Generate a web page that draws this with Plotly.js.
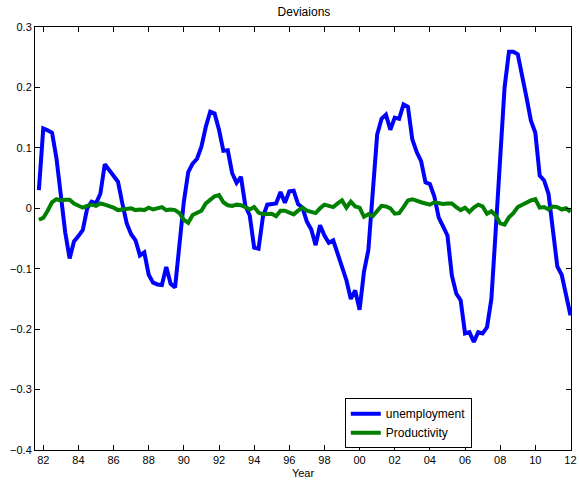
<!DOCTYPE html>
<html>
<head>
<meta charset="utf-8">
<script src="https://cdn.plot.ly/plotly-3.0.1.min.js"></script>
<style>html,body{margin:0;padding:0;background:#fff;}#chart{width:579px;height:481px;}</style>
</head>
<body>
<div id="chart"></div>
<script>
// Quarterly series, first observation 1981Q4 (1981.75), step 0.25 year
const startYear = 1981.75;
const stepYears = 0.25;

const unemployment = [
  0.030, 0.132, 0.129, 0.125, 0.083, 0.020, -0.040, -0.083, -0.055, -0.046,
  -0.036, 0.000, 0.011, 0.008, 0.024, 0.073, 0.064, 0.055, 0.044, 0.008,
  -0.025, -0.043, -0.053, -0.078, -0.073, -0.110, -0.123, -0.126, -0.127, -0.097,
  -0.125, -0.131, -0.054, 0.011, 0.060, 0.074, 0.082, 0.102, 0.135, 0.160,
  0.157, 0.130, 0.095, 0.096, 0.058, 0.042, 0.052, 0.004, -0.012, -0.065,
  -0.067, -0.014, 0.006, 0.007, 0.008, 0.027, 0.009, 0.028, 0.029, 0.007,
  0.001, -0.022, -0.035, -0.061, -0.028, -0.045, -0.057, -0.053, -0.075, -0.100,
  -0.119, -0.150, -0.136, -0.168, -0.105, -0.069, 0.035, 0.122, 0.148, 0.155,
  0.130, 0.150, 0.148, 0.172, 0.168, 0.114, 0.093, 0.078, 0.043, 0.040,
  0.020, -0.015, -0.030, -0.045, -0.111, -0.141, -0.152, -0.207, -0.205, -0.221,
  -0.205, -0.207, -0.197, -0.150, -0.035, 0.085, 0.200, 0.259, 0.259, 0.255,
  0.222, 0.183, 0.145, 0.125, 0.054, 0.046, 0.024, -0.031, -0.096, -0.110,
  -0.145, -0.177
];

const productivity = [
  -0.019, -0.016, -0.004, 0.010, 0.015, 0.013, 0.014, 0.014, 0.008, 0.004,
  0.001, 0.004, 0.006, 0.004, 0.008, 0.006, 0.004, 0.001, -0.003, -0.002,
  -0.001, 0.000, -0.003, -0.002, -0.003, 0.001, -0.002, 0.000, 0.002, -0.003,
  -0.002, -0.003, -0.008, -0.019, -0.024, -0.011, -0.008, -0.004, 0.008, 0.013,
  0.020, 0.022, 0.010, 0.005, 0.004, 0.006, 0.005, 0.002, -0.002, 0.002,
  -0.007, -0.010, -0.009, -0.009, -0.013, -0.004, -0.004, -0.007, -0.010, -0.004,
  0.001, -0.004, -0.006, -0.008, 0.000, 0.006, 0.004, 0.002, 0.008, 0.013,
  0.001, 0.011, 0.003, 0.001, -0.014, -0.010, -0.013, -0.005, 0.004, 0.003,
  0.000, -0.009, -0.008, 0.002, 0.013, 0.015, 0.012, 0.010, 0.008, 0.006,
  0.010, 0.008, 0.007, 0.008, 0.008, 0.002, -0.003, 0.001, -0.006, 0.001,
  0.006, 0.003, -0.009, -0.005, -0.012, -0.025, -0.027, -0.015, -0.008, 0.002,
  0.006, 0.010, 0.013, 0.015, 0.001, 0.002, -0.002, 0.003, 0.002, -0.002,
  0.000, -0.006
];

const tickYears = [1982, 1984, 1986, 1988, 1990, 1992, 1994, 1996, 1998, 2000, 2002, 2004, 2006, 2008, 2010, 2012];
const tickLabels = ["82", "84", "86", "88", "90", "92", "94", "96", "98", "00", "02", "04", "06", "08", "10", "12"];
const yTicks = [-0.4, -0.3, -0.2, -0.1, 0, 0.1, 0.2, 0.3];

const years = unemployment.map((_, i) => startYear + i * stepYears);

const font = "Liberation Sans, Arial, Helvetica, sans-serif";

const traces = [
  {x: years, y: unemployment, type: "scatter", mode: "lines", name: "unemployment",
   line: {color: "#0000ff", width: 4}},
  {x: years, y: productivity, type: "scatter", mode: "lines", name: "Productivity",
   line: {color: "#008000", width: 4}}
];

const axisCommon = {
  showgrid: false, zeroline: false, showline: true, mirror: "ticks",
  linecolor: "#000", linewidth: 1, ticks: "inside", ticklen: 5, tickwidth: 1,
  tickcolor: "#000", tickfont: {family: font, size: 11, color: "#000"}
};

const layout = {
  width: 579, height: 481,
  margin: {l: 35, r: 8, t: 27, b: 31, pad: 0},
  paper_bgcolor: "#fff", plot_bgcolor: "#fff",
  font: {family: font, size: 11, color: "#000"},
  title: {text: "Deviaions", font: {family: font, size: 12, color: "#000"}, x: 0.525, xanchor: "center", y: 0.975, yanchor: "middle"},
  xaxis: Object.assign({}, axisCommon, {
    range: [1981.53, 2012.03], tickmode: "array", tickvals: tickYears, ticktext: tickLabels,
    title: {text: "Year", font: {family: font, size: 11, color: "#000"}, standoff: 4}
  }),
  yaxis: Object.assign({}, axisCommon, {
    range: [-0.4, 0.3], tickmode: "array", tickvals: yTicks
  }),
  showlegend: true,
  legend: {
    x: 0.578, y: 0.004, xanchor: "left", yanchor: "bottom",
    bgcolor: "#fff", bordercolor: "#000", borderwidth: 1,
    font: {family: font, size: 12, color: "#000"},
    tracegroupgap: 0, itemwidth: 30
  }
};

Plotly.newPlot("chart", traces, layout, {displayModeBar: false, staticPlot: true});
</script>
</body>
</html>
